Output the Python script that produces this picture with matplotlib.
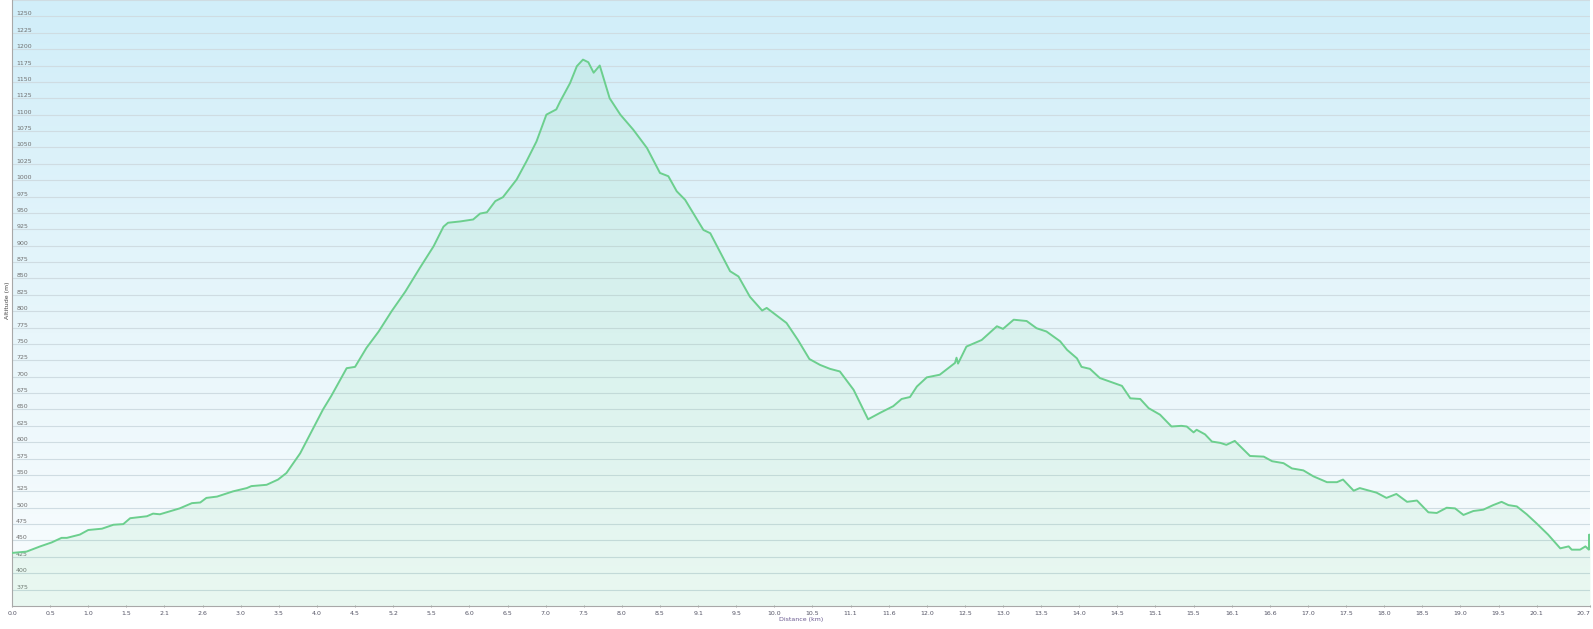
import numpy as np
import matplotlib
matplotlib.use("Agg")
import matplotlib.pyplot as plt
from matplotlib.colors import LinearSegmentedColormap

# ---- data ----
distance_km = [0.00, 0.19, 0.37, 0.52, 0.65, 0.72, 0.89, 1.00, 1.18, 1.33, 1.46, 1.55, 1.77, 1.85, 1.94,
               2.20, 2.36, 2.47, 2.55, 2.69, 2.90, 3.08, 3.14, 3.34, 3.49, 3.60, 3.78, 3.95, 4.08, 4.19,
               4.39, 4.50, 4.65, 4.81, 4.98, 5.16, 5.35, 5.53, 5.66, 5.72, 5.88, 6.05, 6.14, 6.23, 6.34,
               6.44, 6.62, 6.75, 6.88, 7.01, 7.14, 7.19, 7.32, 7.41, 7.49, 7.56, 7.63, 7.71, 7.84, 7.98,
               8.15, 8.33, 8.50, 8.61, 8.72, 8.83, 9.07, 9.16, 9.42, 9.53, 9.68, 9.84, 9.90, 10.16, 10.31,
               10.46, 10.60, 10.73, 10.86, 11.04, 11.23, 11.39, 11.56, 11.67, 11.78, 11.87, 12.00, 12.17,
               12.37, 12.39, 12.41, 12.52, 12.72, 12.92, 13.00, 13.14, 13.31, 13.44, 13.57, 13.75, 13.84,
               13.97, 14.03, 14.14, 14.27, 14.49, 14.56, 14.67, 14.80, 14.91, 15.06, 15.21, 15.34, 15.41,
               15.50, 15.54, 15.65, 15.74, 15.85, 15.93, 16.04, 16.24, 16.42, 16.53, 16.68, 16.79, 16.94,
               17.07, 17.25, 17.38, 17.46, 17.60, 17.68, 17.90, 18.03, 18.16, 18.30, 18.43, 18.58, 18.69,
               18.82, 18.93, 19.04, 19.17, 19.30, 19.43, 19.54, 19.63, 19.74, 19.87, 20.00, 20.15, 20.31,
               20.42, 20.46, 20.57, 20.64, 20.685, 20.69, 20.70]
elevation_m = [431, 433, 441, 447, 454, 454, 459, 466, 468, 474, 475, 484, 487, 491, 490,
               499, 507, 508, 515, 517, 525, 530, 533, 535, 543, 553, 583, 621, 650, 671,
               713, 715, 744, 769, 800, 830, 866, 899, 929, 935, 937, 940, 949, 951, 968,
               974, 1001, 1029, 1059, 1100, 1108, 1120, 1148, 1174, 1184, 1180, 1164, 1175, 1125, 1100,
               1077, 1049, 1011, 1006, 983, 970, 924, 919, 861, 853, 822, 801, 805, 782, 756,
               727, 718, 712, 708, 680, 635, 645, 655, 666, 669, 685, 699, 703,
               721, 729, 720, 746, 756, 777, 773, 787, 785, 774, 769, 754, 741,
               728, 715, 712, 698, 689, 686, 667, 666, 652, 642, 624, 625, 624,
               615, 619, 612, 601, 599, 596, 602, 579, 578, 571, 568, 560, 557,
               548, 539, 539, 543, 526, 530, 523, 515, 521, 509, 511, 493, 492,
               500, 499, 489, 495, 497, 504, 509, 504, 502, 490, 476, 459, 438,
               441, 436, 436, 441, 436, 459, 438]

x_tick_labels = ["0.0", "0.5", "1.0", "1.5", "2.1", "2.6", "3.0", "3.5", "4.0", "4.5", "5.2", "5.5",
                 "6.0", "6.5", "7.0", "7.5", "8.0", "8.5", "9.1", "9.5", "10.0", "10.5", "11.1", "11.6",
                 "12.0", "12.5", "13.0", "13.5", "14.0", "14.5", "15.1", "15.5", "16.1", "16.6", "17.0",
                 "17.5", "18.0", "18.5", "19.0", "19.5", "20.1", "20.7"]
y_ticks = list(range(375, 1251, 25))

x = np.array(distance_km)
y = np.array(elevation_m)

W, H = 1593, 629
fig = plt.figure(figsize=(W / 100, H / 100), dpi=100)
fig.patch.set_facecolor("white")
left, right, top, bottom = 12, 1590, 0, 606
ax = fig.add_axes([left / W, (H - bottom) / H, (right - left) / W, (bottom - top) / H])

xmin, xmax, ymin, ymax = 0, 20.7, 350, 1275
ax.set_xlim(xmin, xmax)
ax.set_ylim(ymin, ymax)

# background gradient
bg = LinearSegmentedColormap.from_list("bg", [(0.0, "#fafdfe"), (0.45, "#e8f6fb"), (1.0, "#d1eef9")])
grad = np.linspace(0, 1, 256).reshape(-1, 1)
ax.imshow(grad, aspect="auto", cmap=bg, origin="lower", extent=[xmin, xmax, ymin, ymax], zorder=0)

# gridlines
for v in range(375, 1276, 25):
    ax.axhline(v, color="#cfdce2", lw=0.8, zorder=1)

# fill under curve (semi-transparent green over gradient)
ax.fill_between(x, ymin, y, color="#5cd083", alpha=0.10, lw=0, zorder=2)
ax.plot(x, y, color="#6ccf8e", lw=1.4, zorder=3, solid_joinstyle="round")

# ticks
xt = [i * 0.5 for i in range(41)] + [20.7]
ax.set_xticks(xt)
ax.set_xticklabels(x_tick_labels, fontsize=4.5, color="#555566")
ax.get_xticklabels()[-1].set_horizontalalignment("right")
ax.tick_params(axis="x", length=2, width=0.6, color="#999999", pad=2.5, direction="inout")

ax.set_yticks(y_ticks)
ax.set_yticklabels([str(v) for v in y_ticks], fontsize=4.5, color="#707070")
for lab in ax.get_yticklabels():
    lab.set_horizontalalignment("left")
    lab.set_verticalalignment("bottom")
ax.tick_params(axis="y", length=0, pad=-3)

for s in ["top", "right"]:
    ax.spines[s].set_visible(False)
for s in ["left", "bottom"]:
    ax.spines[s].set_color("#a8a8a8")
    ax.spines[s].set_linewidth(0.8)

ax.set_xlabel("Distance (km)", fontsize=4.5, color="#6a5a90", labelpad=0.5)
fig.text(8 / W, 1 - 300 / H, "Altitude (m)", rotation=90, fontsize=4.5, color="#444444",
         ha="center", va="center")

fig.savefig("out.png", dpi=100, facecolor="white")
